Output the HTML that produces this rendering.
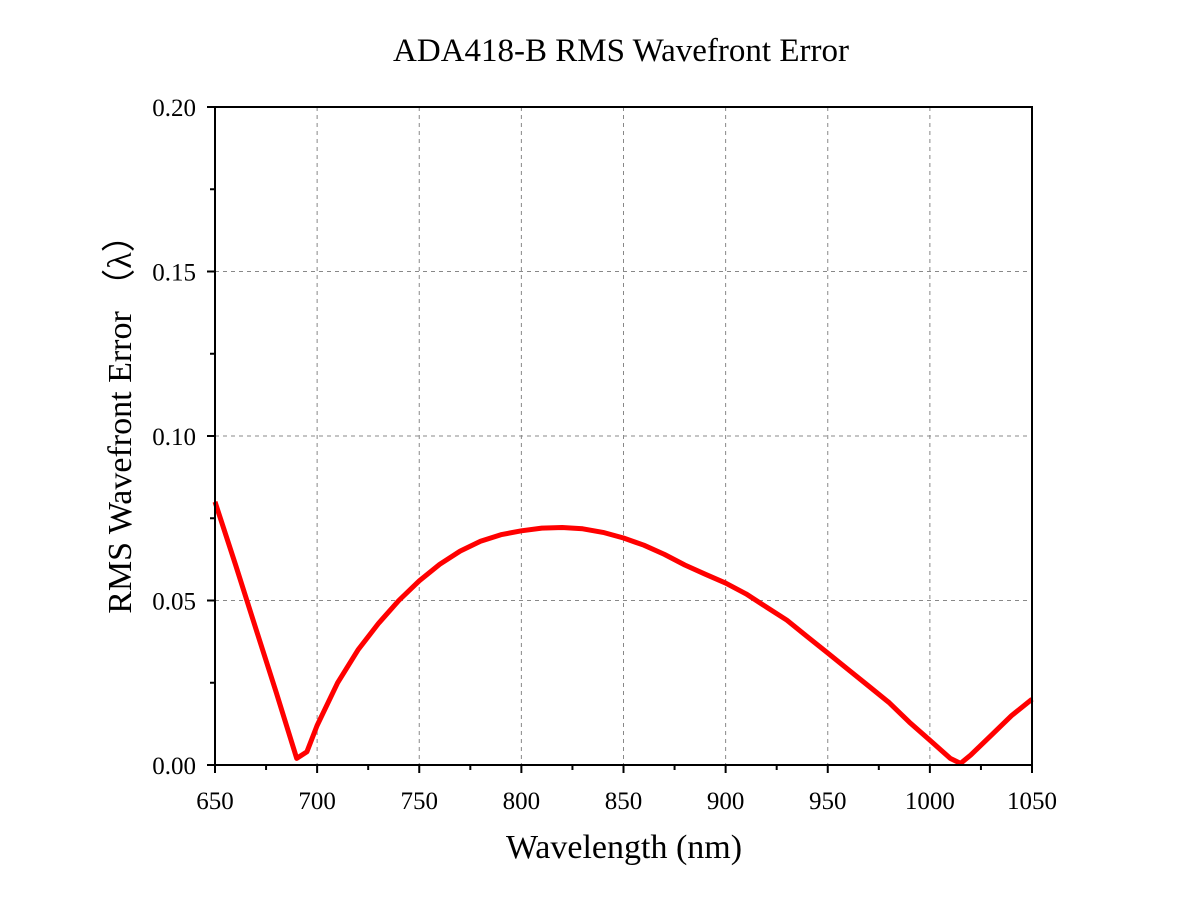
<!DOCTYPE html>
<html><head><meta charset="utf-8"><style>
body{margin:0;background:#fff;width:1200px;height:918px;overflow:hidden}
svg text{font-family:"Liberation Serif",serif;fill:#000}
</style></head><body>
<svg id="chart" width="1200" height="918" xmlns="http://www.w3.org/2000/svg">
<text x="621" y="61" font-size="33" text-anchor="middle">ADA418-B RMS Wavefront Error</text>
<g id="grid"></g>
<g id="axes"></g>
<path id="series" fill="none" stroke="#ff0000" stroke-width="5" stroke-linejoin="round"/>
<rect x="215" y="107" width="817" height="658" fill="none" stroke="#000" stroke-width="2"/>
<text x="624" y="858" font-size="34" text-anchor="middle">Wavelength (nm)</text>
<text transform="translate(131,416) rotate(-90)" font-size="34" text-anchor="middle">RMS Wavefront Error （λ）</text>
</svg>
<script>
const wavelengths=[650,660,670,680,690,695,700,710,720,730,740,750,760,770,780,790,800,810,820,830,840,850,860,870,880,890,900,910,920,930,940,950,960,970,980,990,1000,1010,1015,1020,1030,1040,1050];
const rmsError=[0.080,0.061,0.0415,0.022,0.002,0.004,0.012,0.025,0.035,0.043,0.050,0.056,0.061,0.065,0.068,0.070,0.0712,0.072,0.0722,0.0718,0.0707,0.069,0.0668,0.064,0.0608,0.058,0.0553,0.052,0.048,0.044,0.039,0.034,0.029,0.024,0.019,0.013,0.0075,0.002,0.0005,0.003,0.009,0.015,0.020];
const xTicks=[650,700,750,800,850,900,950,1000,1050];
const yTicks=[0,0.05,0.10,0.15,0.20];
const yTickLabels=["0.00","0.05","0.10","0.15","0.20"];
const X0=215,X1=1032,Y0=765,Y1=107;
const sx=v=>X0+(v-650)/400*(X1-X0);
const sy=v=>Y0-(v/0.2)*(Y0-Y1);
const NS="http://www.w3.org/2000/svg";
const grid=document.getElementById('grid'),axes=document.getElementById('axes');
function mk(tag,attrs,parent){const e=document.createElementNS(NS,tag);for(const k in attrs)e.setAttribute(k,attrs[k]);parent.appendChild(e);return e;}
xTicks.forEach((t,i)=>{
  const x=sx(t);
  if(i>0&&i<xTicks.length-1){const g=mk('line',{x1:x,x2:x,y1:Y1,y2:Y0,stroke:'#888','stroke-dasharray':'4,4','stroke-width':1},grid);
  
  }
  const tk=mk('line',{x1:x,x2:x,y1:Y0,y2:Y0+8,stroke:'#000','stroke-width':2},axes);
  
  
  const lb=mk('text',{x:x,y:809,'font-size':25,'text-anchor':'middle'},axes);lb.textContent=t;
  
  
  if(i<xTicks.length-1){const xm=sx(t+25);const m=mk('line',{x1:xm,x2:xm,y1:Y0,y2:Y0+5,stroke:'#000','stroke-width':2},axes);
  
  }
});
yTicks.forEach((t,i)=>{
  const y=sy(t);
  if(i>0&&i<yTicks.length-1){const g=mk('line',{x1:X0,x2:X1,y1:y,y2:y,stroke:'#888','stroke-dasharray':'4,4','stroke-width':1},grid);
  
  }
  const tk=mk('line',{x1:X0-8,x2:X0,y1:y,y2:y,stroke:'#000','stroke-width':2},axes);
  
  
  const lb=mk('text',{x:X0-19,y:y+9,'font-size':25,'text-anchor':'end'},axes);lb.textContent=yTickLabels[i];
  
  
  if(i<yTicks.length-1){const ym=sy(t+0.025);const m=mk('line',{x1:X0-5,x2:X0,y1:ym,y2:ym,stroke:'#000','stroke-width':2},axes);
  
  }
});
document.getElementById('series').setAttribute('d',wavelengths.map((w,i)=>(i?'L':'M')+sx(w).toFixed(1)+','+sy(rmsError[i]).toFixed(1)).join(' '));
</script>
</body></html>
